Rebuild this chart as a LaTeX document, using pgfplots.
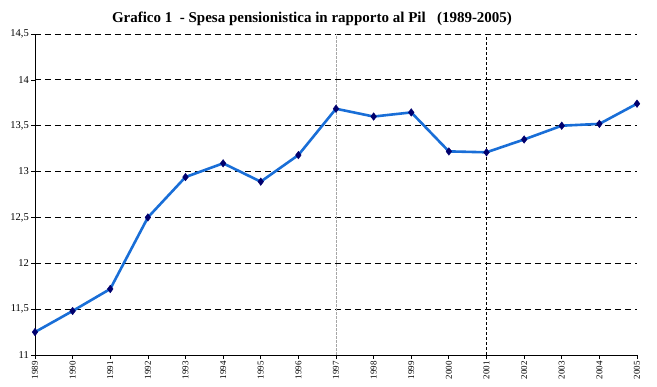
\documentclass[border=0pt]{standalone}
\usepackage{pgfplots}
\pgfplotsset{compat=1.18}
\usepackage{fontspec}
\setmainfont{Liberation Serif}
\definecolor{linecol}{RGB}{25,110,215}
\definecolor{markcol}{RGB}{0,0,110}
\begin{document}
\begin{tikzpicture}
\begin{axis}[
  scale only axis,
  width=602pt, height=321pt,
  xmin=1989, xmax=2005,
  ymin=11, ymax=14.5,
  xtick={1989,...,2005},
  ytick={11,11.5,...,14.5},
  axis x line*=bottom,
  axis y line*=left,
  x axis line style={-, line width=0.9pt},
  y axis line style={-, line width=0.9pt},
  xtick style={black, line width=0.7pt},
  ytick style={black, line width=0.7pt},
  tick align=outside,
  major tick length=4pt,
  xticklabel style={rotate=90, anchor=east, font=\fontsize{9}{10}\selectfont, inner sep=2pt},
  yticklabel style={font=\fontsize{10.5}{11}\selectfont, inner sep=2pt},
  /pgf/number format/assume math mode=true,
  x tick label style={/pgf/number format/set thousands separator={}},
  y tick label style={/pgf/number format/.cd, use comma, fixed, 1000 sep={}},
  ymajorgrids,
  major y grid style={black, dash pattern=on 6pt off 4pt, line width=0.9pt},
  title={\bfseries Grafico 1\ \ - Spesa pensionistica in rapporto al Pil\ \ \ (1989-2005)},
  title style={font=\fontsize{15}{17}\selectfont, yshift=-1pt, xshift=-24pt},
  clip=false,
]
\draw[gray!70, dash pattern=on 2.5pt off 1.5pt, line width=0.8pt] (axis cs:1997,11) -- (axis cs:1997,14.5);
\draw[black, dash pattern=on 3pt off 2pt, line width=0.7pt] (axis cs:2001,11) -- (axis cs:2001,14.5);
\addplot[linecol, line width=2.6pt, mark=diamond*, mark size=3.8pt,
  mark options={fill=markcol, draw=markcol, line width=0.4pt}] coordinates {
  (1989,11.25) (1990,11.48) (1991,11.72) (1992,12.50) (1993,12.94)
  (1994,13.09) (1995,12.89) (1996,13.18) (1997,13.685) (1998,13.60)
  (1999,13.645) (2000,13.22) (2001,13.21) (2002,13.35) (2003,13.50)
  (2004,13.52) (2005,13.74)
};
\end{axis}
\path[use as bounding box] ([shift={(-35pt,-32pt)}]current axis.south west) rectangle ([shift={(20pt,34pt)}]current axis.north east);
\end{tikzpicture}
\end{document}
